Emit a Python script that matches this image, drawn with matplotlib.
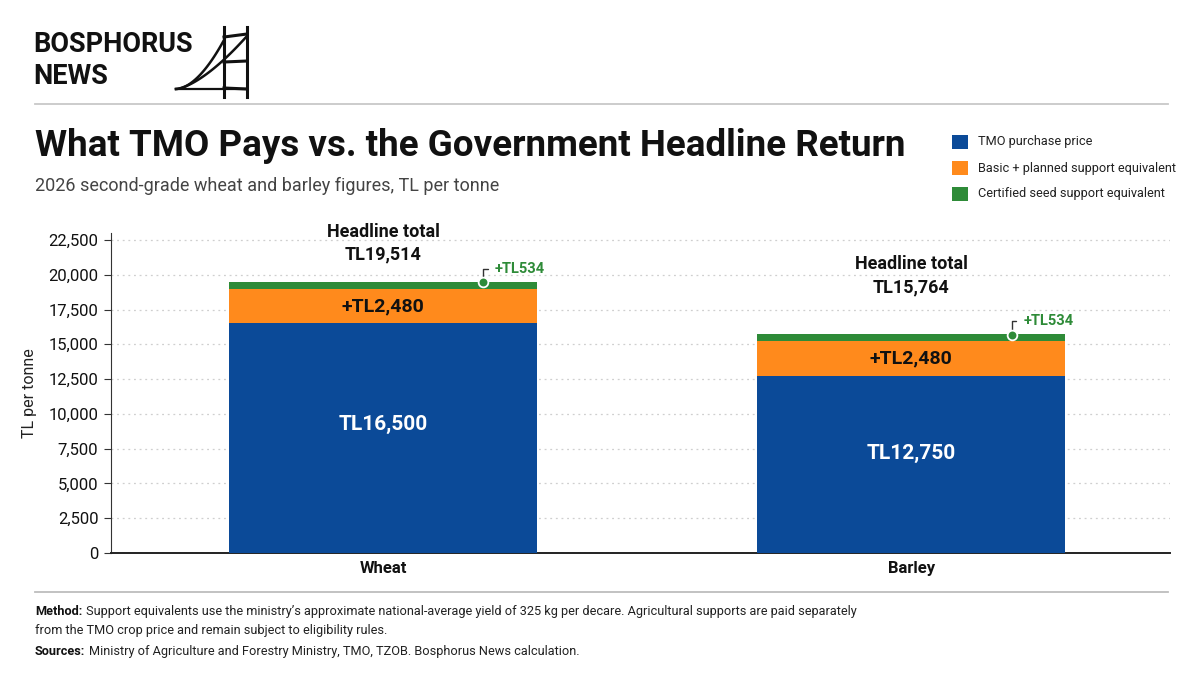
import matplotlib
matplotlib.use("Agg")
import matplotlib.pyplot as plt
from matplotlib.lines import Line2D
from matplotlib.patches import Rectangle
import numpy as np

# data
crops = ["Wheat", "Barley"]
tmo_price = [16500, 12750]
basic_support = [2480, 2480]
seed_support = [534, 534]
headline = [19514, 15764]
series_names = ["TMO purchase price", "Basic + planned support equivalent",
                "Certified seed support equivalent"]
yticks = [0, 2500, 5000, 7500, 10000, 12500, 15000, 17500, 20000, 22500]

BLUE = "#0b4a98"
ORANGE = "#ff8a1c"
GREEN = "#2e8b38"
colors = [BLUE, ORANGE, GREEN]

plt.rcParams["font.family"] = ["Roboto", "DejaVu Sans"]

fig = plt.figure(figsize=(12, 6.75), dpi=100)
fig.patch.set_facecolor("white")

W, H = 1200.0, 675.0


def fx(px):
    return np.asarray(px) / W


def fy(py):
    return 1 - np.asarray(py) / H


# logo
fig.text(fx(33), fy(44), "BOSPHORUS", fontweight="bold",
         fontsize=19.5, va="center", ha="left", color="#111111")
fig.text(fx(33), fy(76), "NEWS", fontweight="bold",
         fontsize=19.5, va="center", ha="left", color="#111111")
lw_logo = 2.2
for xx in (224, 247):
    fig.add_artist(Line2D([fx(xx), fx(xx)], [fy(27), fy(97)], color="#111111", lw=lw_logo))
for y0, y1 in ((37, 34), (62, 61), (88, 89)):
    fig.add_artist(Line2D([fx(224), fx(247)], [fy(y0), fy(y1)], color="#111111", lw=lw_logo))
t = np.linspace(0, 1, 40)
c1x = 176 + (224 - 176) * t
c1y = 89 - (89 - 40) * t ** 1.8
fig.add_artist(Line2D(fx(c1x), fy(c1y), color="#111111", lw=1.8))
c2x = 176 + (247 - 176) * t
c2y = 89 - (89 - 36) * t ** 1.5
fig.add_artist(Line2D(fx(c2x), fy(c2y), color="#111111", lw=1.8))
fig.add_artist(Line2D([fx(176), fx(247)], [fy(89), fy(89)], color="#111111", lw=1.6))

# header rule
fig.add_artist(Line2D([fx(35), fx(1168)], [fy(104), fy(104)], color="#c8c8c8", lw=1.3))

# title and subtitle
fig.text(fx(35), fy(146), "What TMO Pays vs. the Government Headline Return",
         fontweight="bold", fontsize=26.5, va="center", ha="left", color="#111111")
fig.text(fx(35), fy(186), "2026 second-grade wheat and barley figures, TL per tonne",
         fontsize=13, va="center", ha="left", color="#444444")

# legend
for i, (name, col) in enumerate(zip(series_names, colors)):
    yy = 142 + 26 * i
    fig.add_artist(Rectangle((fx(952), fy(yy + 7)), fx(16), 14 / H,
                             facecolor=col, edgecolor="none"))
    fig.text(fx(978), fy(yy), name, fontsize=9.2, va="center", ha="left", color="#222222")

# axes
ax = fig.add_axes([fx(111), fy(553), fx(1170 - 111), (553 - 233) / H])
x = np.arange(len(crops))
width = 0.583
ax.bar(x, tmo_price, width, color=BLUE, zorder=3)
ax.bar(x, basic_support, width, bottom=tmo_price, color=ORANGE, zorder=3)
bottom2 = [a + b for a, b in zip(tmo_price, basic_support)]
ax.bar(x, seed_support, width, bottom=bottom2, color=GREEN, zorder=3)

ax.set_xlim(-0.515, 1.49)
ax.set_ylim(0, 23000)
ax.set_yticks(yticks)
ax.set_yticklabels([f"{v:,}" for v in yticks], fontsize=12, color="#111111")
ax.set_xticks(x)
ax.set_xticklabels(crops, fontsize=12, fontweight="bold", color="#111111")
ax.tick_params(axis="x", length=0, pad=6)
ax.tick_params(axis="y", length=5, color="#333333", pad=4)
ax.set_ylabel("TL per tonne", fontsize=11.5, color="#222222", labelpad=8)
ax.grid(axis="y", linestyle=(0, (1.5, 3)), color="#cfcfcf", lw=0.9, zorder=0)
for s in ("top", "right"):
    ax.spines[s].set_visible(False)
ax.spines["left"].set_color("#333333")
ax.spines["bottom"].set_color("#222222")
ax.spines["bottom"].set_linewidth(1.4)

head_pad = [13, 27]
for i in range(len(crops)):
    ax.text(x[i], tmo_price[i] * 0.56, f"TL{tmo_price[i]:,}", ha="center", va="center",
            color="white", fontsize=15, fontweight="bold", zorder=5)
    ax.text(x[i], tmo_price[i] + basic_support[i] / 2, f"+TL{basic_support[i]:,}",
            ha="center", va="center", color="#111111", fontsize=14, fontweight="bold", zorder=5)
    ax.annotate(f"Headline total\nTL{headline[i]:,}", (x[i], headline[i]),
                xytext=(0, head_pad[i]), textcoords="offset points", ha="center", va="bottom",
                fontsize=13, fontweight="bold", color="#111111", linespacing=1.35)
    # seed support callout
    dx = 0.19
    ytop = headline[i] - 60
    ax.plot([x[i] + dx], [ytop], marker="o", ms=7, mfc=GREEN, mec="white", mew=1.3,
            zorder=6, clip_on=False)
    ax.annotate(f"+TL{seed_support[i]:,}", (x[i] + dx, ytop),
                xytext=(x[i] + dx + 0.022, ytop + 950), textcoords="data",
                ha="left", va="center", fontsize=10.5, fontweight="bold", color=GREEN,
                arrowprops=dict(arrowstyle="-", color="#333333", lw=1.0,
                                connectionstyle="angle,angleA=0,angleB=90,rad=0",
                                shrinkA=3, shrinkB=3.5))

# footer
fig.add_artist(Line2D([fx(35), fx(1168)], [fy(592), fy(592)], color="#bdbdbd", lw=1.3))
fs = 9.2
fig.canvas.draw()
renderer = fig.canvas.get_renderer()


def label_line(y, head, body):
    tl = fig.text(fx(35), fy(y), head, fontsize=fs, fontweight="bold", va="baseline",
                  ha="left", color="#111111")
    bb = tl.get_window_extent(renderer)
    fig.text(fx(bb.x1 + 4), fy(y), body, fontsize=fs, va="baseline", ha="left",
             color="#222222")


label_line(615, "Method:",
           "Support equivalents use the ministry\u2019s approximate national-average yield of "
           "325 kg per decare. Agricultural supports are paid separately")
fig.text(fx(35), fy(634), "from the TMO crop price and remain subject to eligibility rules.",
         fontsize=fs, va="baseline", ha="left", color="#222222")
label_line(655, "Sources:",
           "Ministry of Agriculture and Forestry Ministry, TMO, TZOB. Bosphorus News calculation.")

fig.savefig("out.png", dpi=100, facecolor="white")
